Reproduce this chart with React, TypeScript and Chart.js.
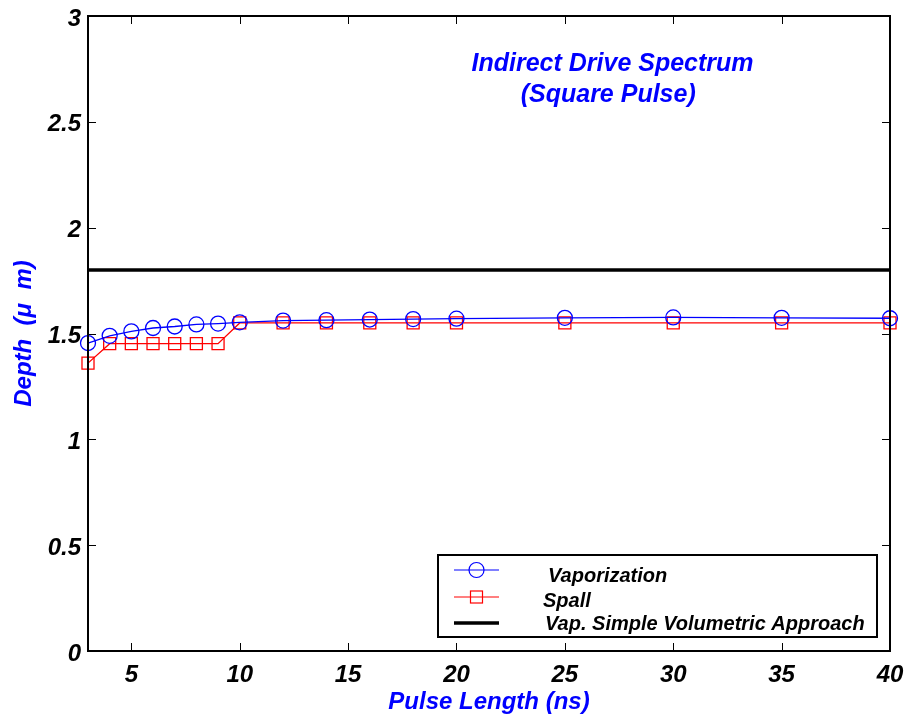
import React, { useEffect, useRef } from "react";
import { Chart, registerables } from "chart.js";

Chart.register(...registerables);

// ---- data ----
const pulseLengths = [3, 4, 5, 6, 7, 8, 9, 10, 12, 14, 16, 18, 20, 25, 30, 35, 40];
const vaporization = [1.455, 1.489, 1.51, 1.526, 1.533, 1.543, 1.547, 1.553, 1.561, 1.563, 1.566, 1.568, 1.57, 1.574, 1.576, 1.574, 1.572];
const spall = [1.36, 1.452, 1.452, 1.452, 1.452, 1.452, 1.452, 1.55, 1.55, 1.55, 1.55, 1.55, 1.55, 1.55, 1.55, 1.55, 1.55];
const volumetricX = [3, 40];
const volumetricDepth = [1.8, 1.8];
const xTickValues = [5, 10, 15, 20, 25, 30, 35, 40];
const yTickValues = [0, 0.5, 1, 1.5, 2, 2.5, 3];
const seriesLabels = ["Vaporization", "Spall", "Vap. Simple Volumetric Approach"];
const annotationLines = ["Indirect Drive Spectrum", "(Square Pulse)"];

const FONT = "'Liberation Sans', Arial, Helvetica, sans-serif";
const BLUE = "#0000ff";
const RED = "#ff0000";

const framePlugin = {
  id: "frameTicks",
  afterDatasetsDraw(chart: any) {
    const { ctx, chartArea } = chart;
    const { left, right, top, bottom } = chartArea;
    const xs = chart.scales.x;
    const ys = chart.scales.y;
    ctx.save();
    ctx.strokeStyle = "#000";
    ctx.lineWidth = 1;
    const tl = 8;
    ctx.beginPath();
    xTickValues.forEach((v) => {
      const px = Math.round(xs.getPixelForValue(v)) + 0.5;
      if (px > right - 2) return;
      ctx.moveTo(px, bottom);
      ctx.lineTo(px, bottom - tl);
      ctx.moveTo(px, top);
      ctx.lineTo(px, top + tl);
    });
    yTickValues.forEach((v) => {
      const py = Math.round(ys.getPixelForValue(v)) + 0.5;
      if (py > bottom - 2 || py < top + 2) return;
      ctx.moveTo(left, py);
      ctx.lineTo(left + tl, py);
      ctx.moveTo(right, py);
      ctx.lineTo(right - tl, py);
    });
    ctx.stroke();
    ctx.lineWidth = 2;
    ctx.strokeRect(left, top, right - left, bottom - top);
    ctx.restore();
  },
};

const annotationPlugin = {
  id: "annotationText",
  afterDraw(chart: any) {
    const { ctx } = chart;
    const xs = chart.scales.x;
    const ys = chart.scales.y;
    ctx.save();
    ctx.fillStyle = BLUE;
    ctx.font = `italic bold 25px ${FONT}`;
    ctx.textAlign = "center";
    ctx.textBaseline = "middle";
    ctx.fillText(annotationLines[0], xs.getPixelForValue(27.2), ys.getPixelForValue(2.775));
    ctx.fillText(annotationLines[1], xs.getPixelForValue(27.0), ys.getPixelForValue(2.625));
    ctx.restore();
  },
};

const legendPlugin = {
  id: "customLegend",
  afterDraw(chart: any) {
    const { ctx, chartArea } = chart;
    const boxRight = chartArea.right - 13;
    const boxBottom = chartArea.bottom - 14;
    const boxW = 439;
    const boxH = 82;
    const boxLeft = boxRight - boxW;
    const boxTop = boxBottom - boxH;
    ctx.save();
    ctx.fillStyle = "#fff";
    ctx.fillRect(boxLeft, boxTop, boxW, boxH);
    ctx.strokeStyle = "#000";
    ctx.lineWidth = 2;
    ctx.strokeRect(boxLeft, boxTop, boxW, boxH);

    const lineX0 = boxLeft + 16;
    const lineX1 = boxLeft + 61;
    const midX = (lineX0 + lineX1) / 2;
    const rows = [
      { ly: boxTop + 15, ty: boxTop + 21, tx: boxLeft + 110 },
      { ly: boxTop + 42, ty: boxTop + 46, tx: boxLeft + 105 },
      { ly: boxTop + 68, ty: boxTop + 69, tx: boxLeft + 107 },
    ];
    // vaporization
    ctx.strokeStyle = BLUE;
    ctx.lineWidth = 1.2;
    ctx.beginPath();
    ctx.moveTo(lineX0, rows[0].ly);
    ctx.lineTo(lineX1, rows[0].ly);
    ctx.stroke();
    ctx.beginPath();
    ctx.arc(midX, rows[0].ly, 7.5, 0, Math.PI * 2);
    ctx.stroke();
    // spall
    ctx.strokeStyle = RED;
    ctx.beginPath();
    ctx.moveTo(lineX0, rows[1].ly);
    ctx.lineTo(lineX1, rows[1].ly);
    ctx.stroke();
    ctx.strokeRect(midX - 6, rows[1].ly - 6, 12, 12);
    // volumetric
    ctx.strokeStyle = "#000";
    ctx.lineWidth = 3.5;
    ctx.beginPath();
    ctx.moveTo(lineX0, rows[2].ly);
    ctx.lineTo(lineX1, rows[2].ly);
    ctx.stroke();

    ctx.fillStyle = "#000";
    ctx.font = `italic bold 20px ${FONT}`;
    ctx.textAlign = "left";
    ctx.textBaseline = "middle";
    rows.forEach((r, i) => ctx.fillText(seriesLabels[i], r.tx, r.ty));
    ctx.restore();
  },
};

export default function App() {
  const canvasRef = useRef<HTMLCanvasElement | null>(null);

  useEffect(() => {
    if (!canvasRef.current) return;
    const chart = new Chart(canvasRef.current, {
      type: "line",
      data: {
        datasets: [
          {
            label: seriesLabels[0],
            data: pulseLengths.map((x, i) => ({ x, y: vaporization[i] })),
            borderColor: BLUE,
            backgroundColor: "rgba(0,0,0,0)",
            borderWidth: 1.3,
            pointStyle: "circle",
            pointRadius: 7.5,
            pointBorderWidth: 1.3,
            pointBorderColor: BLUE,
            pointBackgroundColor: "rgba(0,0,0,0)",
            clip: false,
          },
          {
            label: seriesLabels[1],
            data: pulseLengths.map((x, i) => ({ x, y: spall[i] })),
            borderColor: RED,
            backgroundColor: "rgba(0,0,0,0)",
            borderWidth: 1.3,
            pointStyle: "rect",
            pointRadius: 8.5,
            pointBorderWidth: 1.3,
            pointBorderColor: RED,
            pointBackgroundColor: "rgba(0,0,0,0)",
            clip: false,
          },
          {
            label: seriesLabels[2],
            data: volumetricX.map((x, i) => ({ x, y: volumetricDepth[i] })),
            borderColor: "#000",
            borderWidth: 3.5,
            pointRadius: 0,
          },
        ],
      },
      options: {
        animation: false,
        responsive: true,
        maintainAspectRatio: false,
        layout: { padding: { left: 0, right: 18, top: 16, bottom: 0 } },
        plugins: {
          legend: { display: false },
          tooltip: { enabled: false },
        },
        scales: {
          x: {
            type: "linear",
            min: 3,
            max: 40,
            grid: { display: false, drawTicks: false, tickLength: 0 },
            border: { display: false },
            afterBuildTicks: (scale: any) => {
              scale.ticks = xTickValues.map((v) => ({ value: v }));
            },
            afterFit: (scale: any) => {
              scale.height = 66;
              scale.paddingLeft = 0;
              scale.paddingRight = 0;
            },
            ticks: {
              padding: 10,
              color: "#000",
              font: { family: FONT, size: 24, style: "italic", weight: "bold" },
              maxRotation: 0,
              autoSkip: false,
            },
            title: {
              display: true,
              text: "Pulse Length (ns)",
              color: BLUE,
              padding: { top: 0, bottom: 0 },
              font: { family: FONT, size: 24, style: "italic", weight: "bold" },
            },
          },
          y: {
            type: "linear",
            min: 0,
            max: 3,
            grid: { display: false, drawTicks: false, tickLength: 0 },
            border: { display: false },
            afterBuildTicks: (scale: any) => {
              scale.ticks = yTickValues.map((v) => ({ value: v }));
            },
            afterFit: (scale: any) => {
              scale.width = 88;
              scale.paddingTop = 0;
              scale.paddingBottom = 0;
            },
            ticks: {
              padding: 7,
              labelOffset: 3,
              color: "#000",
              font: { family: FONT, size: 24, style: "italic", weight: "bold" },
              callback: (v: any) => String(v),
            },
            title: {
              display: true,
              text: "Depth  (\u03bc  m)",
              color: BLUE,
              padding: { top: 10, bottom: 0 },
              font: { family: FONT, size: 24, style: "italic", weight: "bold" },
            },
          },
        },
      },
      plugins: [framePlugin, annotationPlugin, legendPlugin],
    });
    return () => chart.destroy();
  }, []);

  return (
    <div style={{ position: "absolute", left: 0, top: 0, width: 908, height: 717, background: "#fff" }}>
      <canvas ref={canvasRef} />
    </div>
  );
}
